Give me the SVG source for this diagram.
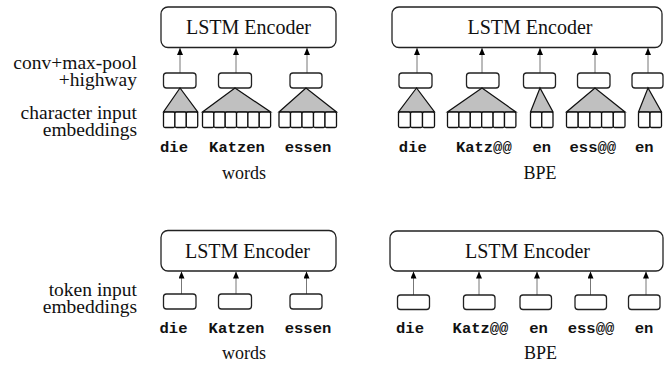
<svg xmlns="http://www.w3.org/2000/svg" width="664" height="365" viewBox="0 0 664 365">
<style>
.enc{fill:#fff;stroke:#222;stroke-width:1.3}
.sb{fill:#fff;stroke:#222;stroke-width:1.3}
.cell{fill:#fff;stroke:#111;stroke-width:1.3}
.tri{fill:#c0c0c0;stroke:#111;stroke-width:1.2;stroke-linejoin:miter}
.arr{stroke:#777;stroke-width:1;fill:none}
.serif{font-family:"Liberation Serif","Times New Roman",serif;fill:#111}
.t20{font-size:20px}
.t18{font-size:18px}
.lab{font-size:19.5px;text-anchor:end}
.mono{font-family:"Liberation Mono","Courier New",monospace;font-weight:bold;font-size:15.5px;text-anchor:middle;fill:#111}
.mid{text-anchor:middle}
</style>
<defs>
<marker id="ah" viewBox="0 0 7 6" refX="7" refY="3" markerWidth="7" markerHeight="6" markerUnits="userSpaceOnUse" orient="auto">
<path d="M0,0 L7,3 L0,6 z" fill="#000"/>
</marker>
</defs>

<!-- side labels -->
<g id="labels" class="serif">
<text class="lab" x="137" y="69"><tspan x="137">conv+max-pool</tspan><tspan x="137" dy="16.5">+highway</tspan></text>
<text class="lab" x="137" y="119"><tspan x="137">character input</tspan><tspan x="137" dy="16.5">embeddings</tspan></text>
<text class="lab" x="137" y="296"><tspan x="137">token input</tspan><tspan x="137" dy="16.5">embeddings</tspan></text>
</g>

<!-- connectors -->
<g id="connectors">
<line class="arr" x1="180" y1="73" x2="180" y2="48" marker-end="url(#ah)"/>
<line class="arr" x1="236" y1="73" x2="236" y2="48" marker-end="url(#ah)"/>
<line class="arr" x1="307" y1="73" x2="307" y2="48" marker-end="url(#ah)"/>
<line class="arr" x1="417" y1="73" x2="417" y2="48" marker-end="url(#ah)"/>
<line class="arr" x1="482" y1="73" x2="482" y2="48" marker-end="url(#ah)"/>
<line class="arr" x1="540" y1="73" x2="540" y2="48" marker-end="url(#ah)"/>
<line class="arr" x1="595" y1="73" x2="595" y2="48" marker-end="url(#ah)"/>
<line class="arr" x1="648" y1="73" x2="648" y2="48" marker-end="url(#ah)"/>
<line class="arr" x1="181.5" y1="294" x2="181.5" y2="271.5" marker-end="url(#ah)"/>
<line class="arr" x1="236" y1="294" x2="236" y2="271.5" marker-end="url(#ah)"/>
<line class="arr" x1="306.5" y1="294" x2="306.5" y2="271.5" marker-end="url(#ah)"/>
<line class="arr" x1="413.5" y1="295" x2="413.5" y2="271.5" marker-end="url(#ah)"/>
<line class="arr" x1="479" y1="295" x2="479" y2="271.5" marker-end="url(#ah)"/>
<line class="arr" x1="537" y1="295" x2="537" y2="271.5" marker-end="url(#ah)"/>
<line class="arr" x1="590.5" y1="295" x2="590.5" y2="271.5" marker-end="url(#ah)"/>
<line class="arr" x1="646" y1="295" x2="646" y2="271.5" marker-end="url(#ah)"/>
</g>

<!-- top-left: words, character level -->
<g id="enc-tl">
<rect class="enc" x="161" y="7" width="175" height="40.5" rx="7"/>
<text class="serif t20 mid" x="248.5" y="34">LSTM Encoder</text>
</g>
<g id="tl-die">
<rect class="sb" x="163.5" y="73" width="32.5" height="15" rx="3"/>
<polygon class="tri" points="180,88 163.5,112 197.7,112"/>
<rect class="cell" x="163.5" y="112" width="11.4" height="15.5" rx="1.5"/>
<rect class="cell" x="174.9" y="112" width="11.4" height="15.5" rx="1.5"/>
<rect class="cell" x="186.3" y="112" width="11.4" height="15.5" rx="1.5"/>
<text class="mono" x="174" y="152">die</text>
</g>
<g id="tl-katzen">
<rect class="sb" x="218.5" y="73" width="33" height="15" rx="3"/>
<polygon class="tri" points="235,88 202.5,112 270.6,112"/>
<rect class="cell" x="202.5" y="112" width="11.35" height="15.5" rx="1.5"/>
<rect class="cell" x="213.85" y="112" width="11.35" height="15.5" rx="1.5"/>
<rect class="cell" x="225.2" y="112" width="11.35" height="15.5" rx="1.5"/>
<rect class="cell" x="236.55" y="112" width="11.35" height="15.5" rx="1.5"/>
<rect class="cell" x="247.9" y="112" width="11.35" height="15.5" rx="1.5"/>
<rect class="cell" x="259.25" y="112" width="11.35" height="15.5" rx="1.5"/>
<text class="mono" x="237" y="152">Katzen</text>
</g>
<g id="tl-essen">
<rect class="sb" x="290" y="73" width="32" height="15" rx="3"/>
<polygon class="tri" points="306,88 279,112 336.5,112"/>
<rect class="cell" x="279" y="112" width="11.5" height="15.5" rx="1.5"/>
<rect class="cell" x="290.5" y="112" width="11.5" height="15.5" rx="1.5"/>
<rect class="cell" x="302" y="112" width="11.5" height="15.5" rx="1.5"/>
<rect class="cell" x="313.5" y="112" width="11.5" height="15.5" rx="1.5"/>
<rect class="cell" x="325" y="112" width="11.5" height="15.5" rx="1.5"/>
<text class="mono" x="308" y="152">essen</text>
</g>
<text class="serif t18 mid" x="244" y="179">words</text>

<!-- top-right: BPE, character level -->
<g id="enc-tr">
<rect class="enc" x="392" y="7" width="270" height="40.5" rx="7"/>
<text class="serif t20 mid" x="530" y="34">LSTM Encoder</text>
</g>
<g id="tr-die">
<rect class="sb" x="399" y="73" width="33" height="15" rx="3"/>
<polygon class="tri" points="416.5,88 398.5,112 434.5,112"/>
<rect class="cell" x="398.5" y="112" width="12" height="15.5" rx="1.5"/>
<rect class="cell" x="410.5" y="112" width="12" height="15.5" rx="1.5"/>
<rect class="cell" x="422.5" y="112" width="12" height="15.5" rx="1.5"/>
<text class="mono" x="412.8" y="151.5">die</text>
</g>
<g id="tr-katz">
<rect class="sb" x="466.5" y="73" width="32.5" height="15" rx="3"/>
<polygon class="tri" points="482,88 447.5,112 515.9,112"/>
<rect class="cell" x="447.5" y="112" width="11.4" height="15.5" rx="1.5"/>
<rect class="cell" x="458.9" y="112" width="11.4" height="15.5" rx="1.5"/>
<rect class="cell" x="470.3" y="112" width="11.4" height="15.5" rx="1.5"/>
<rect class="cell" x="481.7" y="112" width="11.4" height="15.5" rx="1.5"/>
<rect class="cell" x="493.1" y="112" width="11.4" height="15.5" rx="1.5"/>
<rect class="cell" x="504.5" y="112" width="11.4" height="15.5" rx="1.5"/>
<text class="mono" x="483.8" y="151.5">Katz@@</text>
</g>
<g id="tr-en1">
<rect class="sb" x="523.5" y="73" width="32" height="15" rx="3"/>
<polygon class="tri" points="540,88 530.5,112 553,112"/>
<rect class="cell" x="530.5" y="112" width="11.25" height="15.5" rx="1.5"/>
<rect class="cell" x="541.75" y="112" width="11.25" height="15.5" rx="1.5"/>
<text class="mono" x="541.7" y="151.5">en</text>
</g>
<g id="tr-ess">
<rect class="sb" x="577.5" y="73" width="32.5" height="15" rx="3"/>
<polygon class="tri" points="595,88 566.5,112 625,112"/>
<rect class="cell" x="566.5" y="112" width="11.7" height="15.5" rx="1.5"/>
<rect class="cell" x="578.2" y="112" width="11.7" height="15.5" rx="1.5"/>
<rect class="cell" x="589.9" y="112" width="11.7" height="15.5" rx="1.5"/>
<rect class="cell" x="601.6" y="112" width="11.7" height="15.5" rx="1.5"/>
<rect class="cell" x="613.3" y="112" width="11.7" height="15.5" rx="1.5"/>
<text class="mono" x="592.8" y="151.5">ess@@</text>
</g>
<g id="tr-en2">
<rect class="sb" x="632" y="73" width="31" height="15" rx="3"/>
<polygon class="tri" points="648,88 638.5,112 661.5,112"/>
<rect class="cell" x="638.5" y="112" width="11.5" height="15.5" rx="1.5"/>
<rect class="cell" x="650" y="112" width="11.5" height="15.5" rx="1.5"/>
<text class="mono" x="644.2" y="151.5">en</text>
</g>
<text class="serif t18 mid" x="540" y="179">BPE</text>

<!-- bottom-left: words, token level -->
<g id="enc-bl">
<rect class="enc" x="161" y="230.5" width="175" height="40.5" rx="7"/>
<text class="serif t20 mid" x="247.5" y="257.5">LSTM Encoder</text>
</g>
<g id="bl-die">
<rect class="sb" x="163.5" y="294" width="32.5" height="15" rx="3"/>
<text class="mono" x="173.5" y="332.5">die</text>
</g>
<g id="bl-katzen">
<rect class="sb" x="218.5" y="294" width="33" height="15" rx="3"/>
<text class="mono" x="236.5" y="332.5">Katzen</text>
</g>
<g id="bl-essen">
<rect class="sb" x="290" y="294" width="32" height="15" rx="3"/>
<text class="mono" x="308" y="332.5">essen</text>
</g>
<text class="serif t18 mid" x="244" y="359">words</text>

<!-- bottom-right: BPE, token level -->
<g id="enc-br">
<rect class="enc" x="390" y="231" width="273" height="40" rx="7"/>
<text class="serif t20 mid" x="527.5" y="257.5">LSTM Encoder</text>
</g>
<g id="br-die">
<rect class="sb" x="397.5" y="295" width="32" height="14.5" rx="3"/>
<text class="mono" x="410" y="332.5">die</text>
</g>
<g id="br-katz">
<rect class="sb" x="463.5" y="295" width="31.5" height="14.5" rx="3"/>
<text class="mono" x="480.5" y="332.5">Katz@@</text>
</g>
<g id="br-en1">
<rect class="sb" x="520" y="295" width="31.5" height="14.5" rx="3"/>
<text class="mono" x="538.5" y="332.5">en</text>
</g>
<g id="br-ess">
<rect class="sb" x="575" y="295" width="31.5" height="14.5" rx="3"/>
<text class="mono" x="591" y="332.5">ess@@</text>
</g>
<g id="br-en2">
<rect class="sb" x="628.5" y="295" width="31.5" height="14.5" rx="3"/>
<text class="mono" x="644" y="332.5">en</text>
</g>
<text class="serif t18 mid" x="540.5" y="359">BPE</text>
</svg>
